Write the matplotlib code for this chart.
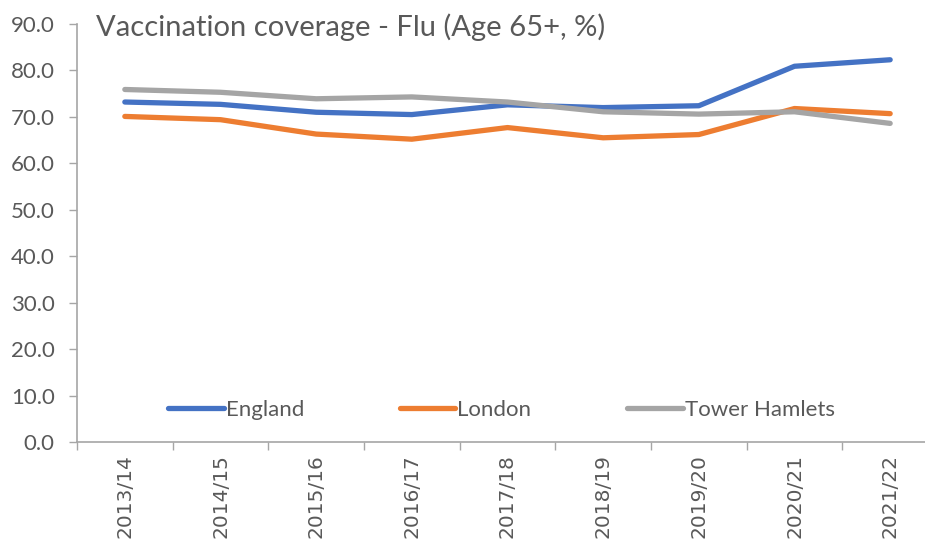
import matplotlib
matplotlib.use("Agg")
import matplotlib.pyplot as plt
from matplotlib.ticker import FixedLocator, NullFormatter, FixedFormatter

# Flu vaccination coverage, people aged 65+ (%)
seasons = ["2013/14", "2014/15", "2015/16", "2016/17", "2017/18",
           "2018/19", "2019/20", "2020/21", "2021/22"]
england = [73.2, 72.7, 71.0, 70.5, 72.6, 72.0, 72.4, 80.9, 82.3]
london = [70.1, 69.4, 66.3, 65.2, 67.7, 65.5, 66.2, 71.8, 70.7]
tower_hamlets = [75.9, 75.3, 73.9, 74.3, 73.2, 71.1, 70.6, 71.1, 68.6]

series_names = ["England", "London", "Tower Hamlets"]
series_colors = ["#4472C4", "#ED7D31", "#A5A5A5"]
y_ticks = [0, 10, 20, 30, 40, 50, 60, 70, 80, 90]
title = "Vaccination coverage - Flu (Age 65+, %)"

plt.rcParams["font.family"] = ["Lato", "DejaVu Sans"]
text_color = "#595959"
axis_color = "#A6A6A6"

W, H = 925, 542
fig = plt.figure(figsize=(W / 100, H / 100), dpi=100)
ax = fig.add_axes([77 / W, 1 - 442 / H, (938 - 77) / W, (442 - 24) / H])

x = list(range(len(seasons)))
for vals, name, col in zip([england, london, tower_hamlets], series_names, series_colors):
    ax.plot(x, vals, color=col, lw=3.8, label=name,
            solid_capstyle="round", solid_joinstyle="round")

ax.set_xlim(-0.5, len(seasons) - 0.5)
ax.set_ylim(0, 90)

# Y axis
ax.set_yticks(y_ticks)
ax.set_yticklabels([f"{v:.1f}" for v in y_ticks])
ax.tick_params(axis="y", direction="out", length=6, width=1, color=axis_color,
               labelsize=16, labelcolor=text_color, pad=10)

# X axis: tick marks between categories, labels at category centres
ax.xaxis.set_major_locator(FixedLocator([i - 0.5 for i in range(len(seasons) + 1)]))
ax.xaxis.set_major_formatter(NullFormatter())
ax.xaxis.set_minor_locator(FixedLocator(x))
ax.xaxis.set_minor_formatter(FixedFormatter(seasons))
ax.tick_params(axis="x", which="major", direction="out", length=6, width=1, color=axis_color)
ax.tick_params(axis="x", which="minor", length=0, labelsize=14.5, labelcolor=text_color,
               labelrotation=90, pad=9)
for lbl in ax.get_xticklabels(minor=True):
    lbl.set_family("DejaVu Sans")

for s in ["top", "right"]:
    ax.spines[s].set_visible(False)
for s in ["left", "bottom"]:
    ax.spines[s].set_color(axis_color)
    ax.spines[s].set_linewidth(1.2)

fig.text(96 / W, 1 - 27 / H, title, fontsize=21, color=text_color, va="center", ha="left")

leg = ax.legend(loc="center left", bbox_to_anchor=(168 / W, 1 - 410 / H),
                bbox_transform=fig.transFigure, ncol=3, frameon=False,
                fontsize=16, handlelength=2.5, handletextpad=0.1,
                columnspacing=4.3, borderpad=0, borderaxespad=0)
for t in leg.get_texts():
    t.set_color(text_color)
for h in leg.get_lines():
    h.set_solid_capstyle("round")

fig.savefig("out.png", dpi=100)
